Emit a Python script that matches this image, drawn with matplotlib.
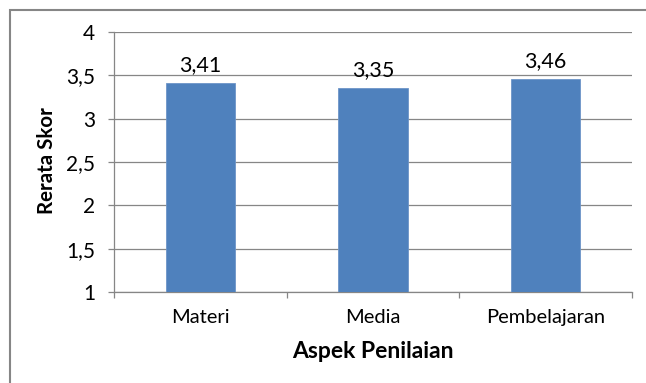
import matplotlib.pyplot as plt
from matplotlib.patches import Rectangle

# data
categories = ["Materi", "Media", "Pembelajaran"]
scores = [3.41, 3.35, 3.46]
y_ticks = [1, 1.5, 2, 2.5, 3, 3.5, 4]

W, H = 646, 383
fig = plt.figure(figsize=(W / 100, H / 100), dpi=100)
plt.rcParams['font.family'] = ['Lato', 'DejaVu Sans']

# outer chart frame (cropped at right/bottom in the original)
fig.patches.append(Rectangle((10 / W, -0.1), 1.2, 1 - 10 / H + 0.1, transform=fig.transFigure,
                             fill=False, edgecolor='#868686', linewidth=1.5))

ax = fig.add_axes([114 / W, 1 - 292 / H, (632 - 114) / W, (292 - 32) / H])
x = range(len(categories))
ax.bar(x, scores, width=0.4, bottom=0, color='#4F81BD', edgecolor='#6d95c8', linewidth=0.6,
       zorder=3)
ax.set_xlim(-0.5, 2.5)
ax.set_ylim(1, 4)

grid = '#868686'
ax.set_yticks(y_ticks)
ax.set_yticklabels([str(v).replace('.', ',') if v != int(v) else str(int(v)) for v in y_ticks],
                   fontsize=15)
ax.yaxis.grid(True, color=grid, linewidth=0.9, zorder=0)
ax.tick_params(axis='y', length=4.5, color=grid, pad=9, width=0.9)

ax.set_xticks([-0.5, 0.5, 1.5, 2.5], minor=False)
ax.set_xticklabels([])
ax.set_xticks(list(x), minor=True)
ax.set_xticklabels(categories, minor=True, fontsize=14.5)
ax.tick_params(axis='x', which='major', length=4.5, color=grid, width=0.9)
ax.tick_params(axis='x', which='minor', length=0, pad=12)

for s in ['top', 'right']:
    ax.spines[s].set_visible(False)
for s in ['left', 'bottom']:
    ax.spines[s].set_color(grid)
    ax.spines[s].set_linewidth(0.9)

for i, v in enumerate(scores):
    ax.text(i, v + 0.14, f"{v:.2f}".replace('.', ','), ha='center', va='baseline', fontsize=15.5)

fig.text(373 / W, 1 - 352 / H, "Aspek Penilaian", ha='center', va='center',
         fontsize=16.5, fontweight='bold')
fig.text(47 / W, 1 - 161 / H, "Rerata Skor", ha='center', va='center', rotation=90,
         fontsize=14.8, fontweight='bold')

fig.savefig("out.png", dpi=100)
